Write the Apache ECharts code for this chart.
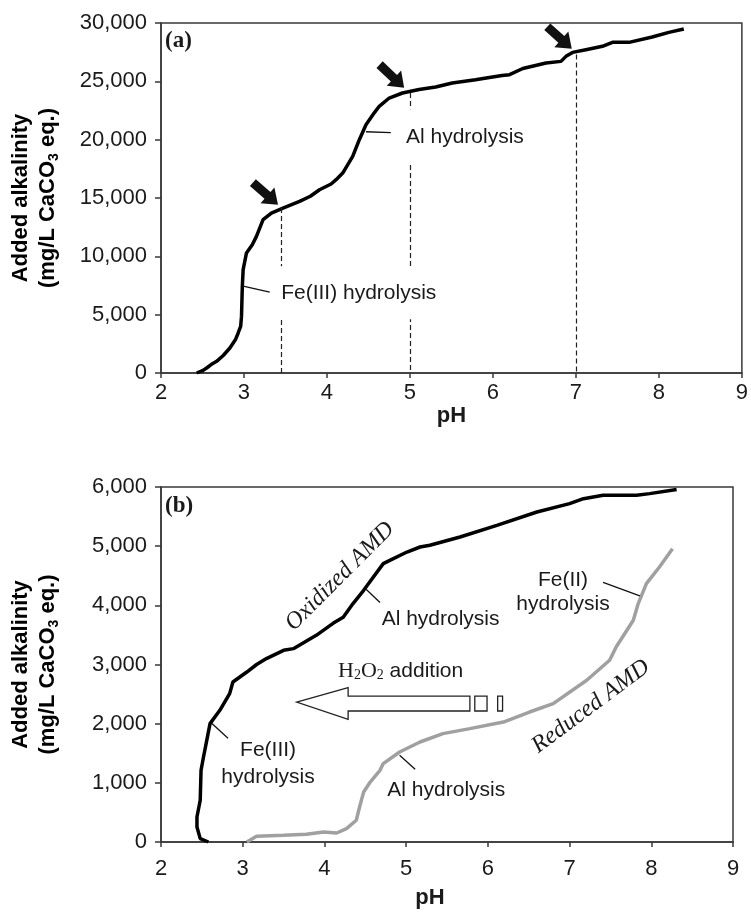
<!DOCTYPE html>
<html><head><meta charset="utf-8">
<script src="https://cdn.jsdelivr.net/npm/echarts@6/dist/echarts.min.js"></script>
<style>html,body{margin:0;padding:0;background:#fff}#c{width:751px;height:913px}</style>
</head><body><div id="c"></div>
<script>
// ---------- DATA ----------
// Panel (a): titration of oxidized AMD
const phA = [2.43,2.50,2.55,2.62,2.67,2.75,2.83,2.90,2.93,2.96,2.97,2.98,2.99,3.03,3.10,3.15,3.23,3.33,3.47,3.67,3.80,3.91,4.05,4.11,4.19,4.31,4.39,4.47,4.57,4.63,4.75,4.91,5.11,5.31,5.51,5.79,5.92,6.11,6.20,6.36,6.64,6.82,6.88,6.96,7.12,7.32,7.44,7.64,7.92,8.12,8.30];
const alkA = [0,200,430,800,1000,1500,2140,2900,3430,4000,4850,7430,8860,10290,11000,11710,13140,13710,14140,14710,15150,15710,16200,16570,17140,18570,20000,21280,22300,22860,23570,24000,24300,24510,24860,25140,25290,25500,25570,26100,26570,26710,27140,27480,27710,28000,28340,28340,28800,29200,29490];
// Panel (b): oxidized AMD
const phOx = [2.58,2.48,2.44,2.44,2.48,2.49,2.52,2.56,2.60,2.72,2.84,2.88,3.05,3.17,3.29,3.50,3.62,3.90,4.11,4.23,4.35,4.48,4.72,4.80,5.01,5.17,5.29,5.66,6.11,6.60,7.00,7.17,7.41,7.82,7.98,8.31];
const alkOx = [0,57,253,422,705,1212,1437,1719,2001,2226,2508,2704,2873,3000,3100,3240,3268,3493,3700,3800,4030,4254,4705,4760,4901,4986,5015,5155,5352,5577,5719,5803,5859,5860,5888,5956];
// Panel (b): reduced AMD
const phRed = [3.05,3.17,3.50,3.78,3.99,4.15,4.27,4.39,4.43,4.48,4.56,4.68,4.72,4.92,5.17,5.45,5.78,6.19,6.51,6.80,7.21,7.49,7.57,7.78,7.84,7.94,8.10,8.26];
const alkRed = [0,96,113,130,169,152,226,367,592,845,1014,1212,1325,1521,1690,1832,1916,2028,2197,2339,2733,3071,3296,3747,4029,4367,4648,4958];
// Marked pH end points (panel a)
const markPH = [3.45, 5, 7];
const markAlk = [14140, 24000, 27300];
// Axis ticks
const xTicks = [2,3,4,5,6,7,8,9];
const yMaxA = 30000, yStepA = 5000;
const yMaxB = 6000, yStepB = 1000;

// ---------- STYLE ----------
const SANS = '"Liberation Sans", Arial, Helvetica, sans-serif';
const SERIF = '"Liberation Serif", "Times New Roman", serif';
const INK = '#1a1a1a';
const AX = '#383838';

const chart = echarts.init(document.getElementById('c'), null, {renderer: 'canvas'});
const pairs = (xs, ys) => xs.map((x, i) => [x, ys[i]]);
const fmt = v => v.toLocaleString('en-US');

function xAxis(gi, margin, gap, padRight) {
  return {
    gridIndex: gi, type: 'value', min: xTicks[0], max: xTicks[xTicks.length - 1], interval: 1,
    name: 'pH', nameLocation: 'middle', nameGap: gap,
    nameTextStyle: {fontFamily: SANS, fontWeight: 'bold', fontSize: 22, color: INK, padding: [0, padRight, 0, 0]},
    axisLine: {show: true, onZero: false, lineStyle: {color: AX, width: 1.5}},
    axisTick: {show: true, inside: false, length: 5, lineStyle: {color: AX, width: 1.5}},
    axisLabel: {fontFamily: SANS, fontSize: 22, color: INK, margin: margin},
    splitLine: {show: false}
  };
}
function yAxis(gi, max, step) {
  return {
    gridIndex: gi, type: 'value', min: 0, max: max, interval: step,
    axisLine: {show: true, lineStyle: {color: AX, width: 1.5}},
    axisTick: {show: true, inside: false, length: 6, lineStyle: {color: AX, width: 1.5}},
    axisLabel: {fontFamily: SANS, fontSize: 22, color: INK, margin: 14, formatter: fmt},
    splitLine: {show: false}
  };
}

chart.setOption({
  animation: false,
  backgroundColor: '#fff',
  grid: [
    {left: 161, top: 23, width: 582, height: 350, show: true, borderColor: AX, borderWidth: 1.5, backgroundColor: 'transparent'},
    {left: 161, top: 487, width: 572, height: 355, show: true, borderColor: AX, borderWidth: 1.5, backgroundColor: 'transparent'}
  ],
  xAxis: [xAxis(0, 9, 30, 0), xAxis(1, 16, 45, 34)],
  yAxis: [yAxis(0, yMaxA, yStepA), yAxis(1, yMaxB, yStepB)],
  series: [
    {
      type: 'line', xAxisIndex: 0, yAxisIndex: 0, data: pairs(phA, alkA),
      showSymbol: false, symbol: 'none', lineStyle: {color: '#000', width: 3.5}, z: 3,
      markLine: {
        silent: true, symbol: ['none', 'none'], label: {show: false},
        lineStyle: {color: '#222', width: 1.2, type: [5, 3]},
        data: markPH.map((p, i) => [{coord: [p, markAlk[i]]}, {coord: [p, 0]}])
      }
    },
    {type: 'line', xAxisIndex: 1, yAxisIndex: 1, data: pairs(phOx, alkOx),
     showSymbol: false, symbol: 'none', lineStyle: {color: '#000', width: 3.5}, z: 3},
    {type: 'line', xAxisIndex: 1, yAxisIndex: 1, data: pairs(phRed, alkRed),
     showSymbol: false, symbol: 'none', lineStyle: {color: '#a0a0a0', width: 3.5}, z: 3}
  ]
});

// ---------- ANNOTATIONS (anchored in data coordinates) ----------
const P = (g, pt) => chart.convertToPixel({gridIndex: g}, pt);
const G = [];
function txt(g, pt, text, opts) {
  const p = P(g, pt);
  G.push(Object.assign({type: 'text', x: p[0], y: p[1], z: 100,
    style: Object.assign({text: text, fill: INK, fontFamily: SANS, fontSize: 21, align: 'left', verticalAlign: 'middle'}, opts || {})}));
}
function leader(g, a, b) {
  const p = P(g, a), q = P(g, b);
  G.push({type: 'line', z: 101, shape: {x1: p[0], y1: p[1], x2: q[0], y2: q[1]}, style: {stroke: '#111', lineWidth: 1.3}});
}
function solidArrow(g, tail, tip) {
  const t = P(g, tail), p = P(g, tip);
  const dx = p[0] - t[0], dy = p[1] - t[1], L = Math.hypot(dx, dy);
  const ux = dx / L, uy = dy / L, nx = -uy, ny = ux;
  const hl = 14, hw = 10.5, sw = 4.5;
  const bx = p[0] - ux * hl, by = p[1] - uy * hl;
  const pts = [
    [t[0] + nx * sw, t[1] + ny * sw], [bx + nx * sw, by + ny * sw], [bx + nx * hw, by + ny * hw],
    [p[0], p[1]], [bx - nx * hw, by - ny * hw], [bx - nx * sw, by - ny * sw], [t[0] - nx * sw, t[1] - ny * sw]
  ];
  G.push({type: 'polygon', z: 102, shape: {points: pts}, style: {fill: '#111'}});
}

// Panel (a)
txt(0, [3.40, 6880], 'Fe(III) hydrolysis', {backgroundColor: '#fff', padding: [16, 4, 16, 4]});
leader(0, [2.99, 7440], [3.31, 6930]);
txt(0, [4.88, 20250], 'Al hydrolysis', {backgroundColor: '#fff', padding: [17, 4, 17, 6]});
leader(0, [4.47, 20680], [4.77, 20600]);
solidArrow(0, [3.107, 16320], [3.41, 14430]);
solidArrow(0, [4.634, 26430], [4.93, 24450]);
solidArrow(0, [6.655, 29680], [6.95, 27800]);

// Panel (b)
txt(1, [4.19, 4490], 'Oxidized AMD', {fontFamily: SERIF, fontStyle: 'italic', fontSize: 24, align: 'center'});
G[G.length - 1].rotation = Math.PI / 4;
txt(1, [7.26, 2290], 'Reduced AMD', {fontFamily: SERIF, fontStyle: 'italic', fontSize: 24, align: 'center'});
G[G.length - 1].rotation = 0.64;
txt(1, [4.70, 3774], 'Al hydrolysis');
leader(1, [4.50, 4285], [4.68, 4048]);
txt(1, [6.92, 4228], 'Fe(II)\nhydrolysis', {align: 'center', lineHeight: 24});
leader(1, [7.41, 4388], [7.86, 4160]);
txt(1, [4.77, 874], 'Al hydrolysis');
leader(1, [4.92, 1465], [5.11, 1229]);
txt(1, [3.31, 1322], 'Fe(III)\nhydrolysis', {align: 'center', lineHeight: 27});
leader(1, [2.62, 2006], [2.82, 1753]);
txt(1, [4.166, 2884], '{s|H}{ss|2}{s|O}{ss|2}{a| addition}', {
  rich: {
    s: {fontFamily: SERIF, fontSize: 22, color: INK, lineHeight: 22},
    ss: {fontFamily: SERIF, fontSize: 14, color: INK, lineHeight: 22, verticalAlign: 'bottom'},
    a: {fontFamily: SANS, fontSize: 21, color: INK, lineHeight: 22}
  }
});
// hollow H2O2 arrow
(function () {
  const tip = P(1, [3.66, 2366]);
  const hTop = P(1, [4.29, 2609]), hBot = P(1, [4.29, 2074]);
  const sTop = P(1, [5.78, 2467]), sBot = P(1, [5.78, 2214]);
  const pts = [tip, [hTop[0], hTop[1]], [hTop[0], sTop[1]], [sTop[0], sTop[1]], [sBot[0], sBot[1]], [hBot[0], sBot[1]], [hBot[0], hBot[1]]];
  G.push({type: 'polygon', z: 100, shape: {points: pts}, style: {fill: '#fff', stroke: '#222', lineWidth: 1.3}});
  const r1a = P(1, [5.84, 2467]), r1b = P(1, [5.99, 2214]);
  const r2a = P(1, [6.12, 2467]), r2b = P(1, [6.18, 2214]);
  G.push({type: 'rect', z: 100, shape: {x: r1a[0], y: r1a[1], width: r1b[0] - r1a[0], height: r1b[1] - r1a[1]}, style: {fill: '#fff', stroke: '#222', lineWidth: 1.3}});
  G.push({type: 'rect', z: 100, shape: {x: r2a[0], y: r2a[1], width: r2b[0] - r2a[0], height: r2b[1] - r2a[1]}, style: {fill: '#fff', stroke: '#222', lineWidth: 1.3}});
})();

// Panel letters
const ga = chart.getModel().getComponent('grid', 0).coordinateSystem.getRect();
const gb = chart.getModel().getComponent('grid', 1).coordinateSystem.getRect();
G.push({type: 'text', x: ga.x + 4, y: ga.y + 18, z: 100, style: {text: '(a)', fontFamily: SERIF, fontWeight: 'bold', fontSize: 23, fill: INK, align: 'left', verticalAlign: 'middle'}});
G.push({type: 'text', x: gb.x + 4, y: gb.y + 19, z: 100, style: {text: '(b)', fontFamily: SERIF, fontWeight: 'bold', fontSize: 23, fill: INK, align: 'left', verticalAlign: 'middle'}});

// Y axis titles (two lines, rotated)
function yTitle(rect) {
  G.push({type: 'text', x: 34, y: rect.y + rect.height / 2, rotation: Math.PI / 2, z: 100,
    style: {
      text: '{b|Added alkalinity}\n{b|(mg/L CaCO}{sub|3}{b| eq.)}',
      align: 'center', verticalAlign: 'middle',
      rich: {
        b: {fontFamily: SANS, fontWeight: 'bold', fontSize: 22, color: INK, lineHeight: 27},
        sub: {fontFamily: SANS, fontWeight: 'bold', fontSize: 14, color: INK, lineHeight: 27, verticalAlign: 'bottom'}
      }
    }});
}
yTitle(ga); yTitle(gb);

chart.setOption({graphic: G});
</script>
</body></html>
